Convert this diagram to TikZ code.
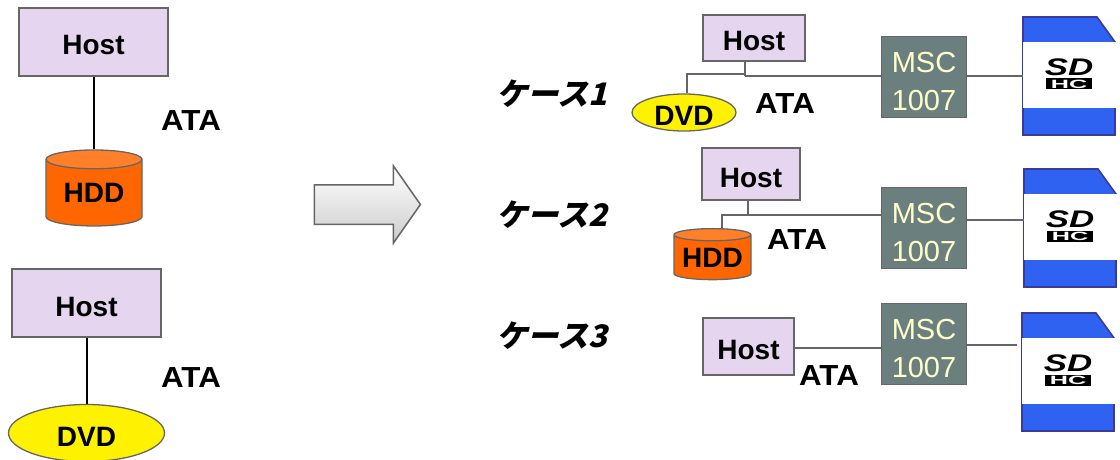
\documentclass[tikz,border=0pt]{standalone}
\usepackage{fontspec}
\setmainfont{Liberation Sans}
\newfontfamily\jpfont[FakeSlant=0.25]{Noto Sans CJK JP}
\usetikzlibrary{positioning, shapes.geometric, shapes.arrows, calc}

\definecolor{hostfill}{HTML}{E6D5EE}
\definecolor{mscfill}{HTML}{6B7F7E}
\definecolor{msctext}{HTML}{FFFFCC}
\definecolor{hddbody}{HTML}{FF6600}
\definecolor{hddtop}{HTML}{FF8029}
\definecolor{edgegray}{HTML}{666666}
\definecolor{cardblue}{HTML}{2F62F0}
\definecolor{cardedge}{HTML}{3A3A9C}

\tikzset{
  label text/.style={font=\bfseries\fontsize{28}{30}\selectfont, inner sep=0pt},
  ata/.style={font=\bfseries\fontsize{29}{30}\selectfont, xscale=1.08, inner sep=0pt},
  host/.style={rectangle, draw=edgegray, line width=1.3pt, fill=hostfill, label text,
    text height=26pt, text depth=0pt},
  msc/.style={rectangle, draw=edgegray, line width=1.3pt, fill=mscfill, text=msctext,
    font=\fontsize{29}{30}\selectfont, inner sep=0pt,
    align=center, minimum width=85pt, minimum height=81pt, text height=67pt},
  dvd/.style={ellipse, draw=edgegray, line width=1.3pt, fill=yellow, label text,
    text height=26pt, text depth=0pt},
  hdd/.style={cylinder, shape border rotate=90, draw=edgegray, line width=1.3pt, label text,
    cylinder uses custom fill, cylinder body fill=hddbody, cylinder end fill=hddtop},
  wire/.style={draw=edgegray, line width=1.5pt},
  blackwire/.style={draw=black, line width=2pt},
  casename/.style={font=\jpfont\bfseries\fontsize{31}{31}\selectfont, inner sep=0pt},
  sdcard/.pic={
    \fill[cardblue, draw=cardedge, line width=1.6pt] (0,0) -- (74,0) -- (92,25) -- (92,118) -- (0,118) -- cycle;
    \fill[white] (0,25) rectangle (93,91);
    \node[font=\bfseries\itshape\fontsize{24}{24}\selectfont, xscale=1.45, inner sep=0pt] (-logo) at (46,50) {SD};
    \node[fill=black, text=white, font=\bfseries\fontsize{12}{12}\selectfont, xscale=2.1,
      minimum width=22pt, minimum height=11pt, inner sep=0pt] (-hc) at (46,67) {HC};
    \node[minimum width=92pt, minimum height=118pt, anchor=north west, inner sep=0pt] (-body) at (0,0) {};
  },
}

\begin{document}
\begin{tikzpicture}[x=1pt, y=-1pt]
  \useasboundingbox (0,0) rectangle (1120,460);

  % left side
  \node[host, minimum width=149pt, minimum height=68pt] (hostA) at (93.5,42) {Host};
  \node[hdd, minimum width=96pt, minimum height=76pt, aspect=0.31] (hddA) at (94,193) {HDD};
  \node[ata] (ataA) at (191,121) {ATA};
  \node[host, minimum width=149pt, minimum height=68pt] (hostB) at (86.5,303) {Host};
  \node[dvd, minimum width=156pt, minimum height=57pt] (dvdB) at (86.5,433) {DVD};
  \node[ata] (ataB) at (191,378) {ATA};
  \draw[blackwire] (hostA.south -| hddA.top) -- (hddA.top);
  \draw[blackwire] (hostB.south) -- (dvdB.north);

  % arrow
  \node[single arrow, draw=edgegray, line width=1.5pt, top color=white, bottom color=black!20,
    minimum height=106pt, minimum width=77pt, inner sep=19pt, single arrow head extend=19pt,
    single arrow tip angle=110] (mainarrow) at (360.5,204.5) {};

  \node[casename] (caseA) at (552,94) {ケース1};
  \node[casename] (caseB) at (552,215) {ケース2};
  \node[casename] (caseC) at (552,336) {ケース3};

  % case 1
  \node[host, minimum width=102pt, minimum height=46pt] (host1) at (754,38) {Host};
  \node[dvd, minimum width=104pt, minimum height=37pt] (dvd1) at (684,112.5) {DVD};
  \node[msc] (msc1) at (924,77) {MSC\\[8pt]1007};
  \pic (card1) at (1023,17) {sdcard};
  \node[ata] (ata1) at (785,104) {ATA};
  \coordinate (join1) at (745,76);
  \draw[wire] ([xshift=-9pt]host1.south) -- (join1);
  \draw[wire] (join1) -- (join1 -| msc1.west);
  \draw[wire] ([yshift=2pt]join1) -| ([xshift=3pt]dvd1.north);
  \draw[wire] (msc1.east |- join1) -- (join1 -| card1-body.west);

  % case 2
  \node[host, minimum width=98pt, minimum height=52pt] (host2) at (751,174) {Host};
  \node[hdd, minimum width=77pt, minimum height=51pt, aspect=0.2] (hdd2) at (712.5,257.5) {HDD};
  \node[msc] (msc2) at (924,228) {MSC\\[8pt]1007};
  \pic (card2) at (1024,169) {sdcard};
  \node[ata] (ata2) at (797,240) {ATA};
  \coordinate (join2) at (748,215);
  \coordinate (end2) at (1024,220);
  \draw[wire] ([xshift=-3pt]host2.south) -- (join2);
  \draw[wire] (join2) -- (join2 -| msc2.west);
  \draw[wire] (join2) -| (hdd2.top -| 722,0);
  \draw[wire] (msc2.east |- end2) -- (end2);

  % case 3
  \node[host, minimum width=91pt, minimum height=57pt] (host3) at (748.5,346.5) {Host};
  \node[msc] (msc3) at (924,344) {MSC\\[8pt]1007};
  \pic (card3) at (1022,313) {sdcard};
  \node[ata] (ata3) at (829,376) {ATA};
  \coordinate (end3) at (1017,345);
  \draw[wire] ([yshift=-1.5pt]host3.east) -- ([yshift=-1.5pt]host3.east -| msc3.west);
  \draw[wire] (msc3.east |- end3) -- (end3);
\end{tikzpicture}
\end{document}
